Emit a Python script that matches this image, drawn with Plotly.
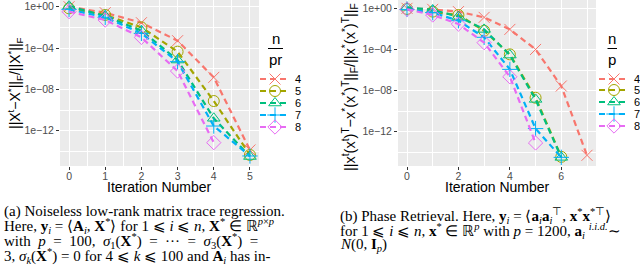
import plotly.graph_objects as go

# ---------------- data (log10 of relative error) ----------------
groups = ["4", "5", "6", "7", "8"]

# Panel (a): low-rank matrix trace regression
a_iter = {
    "4": [0, 1, 2, 3, 4, 5],
    "5": [0, 1, 2, 3, 4, 5],
    "6": [0, 1, 2, 3, 4, 5],
    "7": [0, 1, 2, 3, 4, 5],
    "8": [0, 1, 2, 3, 4],
}
a_log10 = {
    "4": [0.0, -0.58, -1.55, -3.29, -6.84, -13.87],
    "5": [-0.16, -0.80, -2.00, -4.35, -9.13, -14.35],
    "6": [0.06, -0.90, -2.32, -5.16, -10.80, -14.50],
    "7": [-0.26, -1.03, -2.58, -5.32, -11.55, -14.45],
    "8": [-0.48, -1.29, -2.97, -6.23, -13.16],
}

# Panel (b): phase retrieval
b_iter = {
    "4": [0, 1, 2, 3, 4, 5, 6, 7],
    "5": [0, 1, 2, 3, 4, 5, 6],
    "6": [0, 1, 2, 3, 4, 5, 6],
    "7": [0, 1, 2, 3, 4, 5, 6],
    "8": [0, 1, 2, 3, 4, 5],
}
b_log10 = {
    "4": [0.0, -0.10, -0.32, -0.88, -2.05, -4.00, -7.56, -14.30],
    "5": [-0.06, -0.32, -0.65, -2.18, -4.48, -8.70, -14.45],
    "6": [0.10, -0.16, -0.80, -2.05, -4.55, -8.86, -14.50],
    "7": [-0.10, -0.42, -1.20, -2.82, -5.94, -11.70, -14.50],
    "8": [-0.10, -0.65, -1.53, -3.34, -6.66, -13.10],
}

y_tick_vals = [1e0, 1e-4, 1e-8, 1e-12]
y_tick_text = ["1e+00", "1e\u221204", "1e\u221208", "1e\u221212"]
y_minor_vals = [1e-2, 1e-6, 1e-10, 1e-14]

colors = ["#F8766D", "#A3A500", "#00BF7D", "#00B0F6", "#E76BF3"]
symbols = ["x-thin-open", "circle-open", "triangle-up-open", "cross-thin-open", "diamond-open"]

W, H = 640, 278
def px(x):
    return x / W
def py(y):
    return 1 - y / H

fig = go.Figure()

legend_y_a = [79, 91, 103, 115, 127]
legend_y_b = [79, 90, 102, 114, 126]

for i, g in enumerate(groups):
    fig.add_trace(go.Scatter(
        x=a_iter[g], y=[10 ** v for v in a_log10[g]],
        mode="lines+markers", name=g, xaxis="x", yaxis="y", showlegend=True,
        line=dict(color=colors[i], width=2.2, dash="6px,4px"),
        marker=dict(symbol=symbols[i], size=11, color=colors[i],
                    line=dict(color=colors[i], width=1)),
        legend="legend" if i == 0 else f"legend{i + 1}",
    ))
for i, g in enumerate(groups):
    fig.add_trace(go.Scatter(
        x=b_iter[g], y=[10 ** v for v in b_log10[g]],
        mode="lines+markers", name=g, xaxis="x2", yaxis="y2", showlegend=True,
        line=dict(color=colors[i], width=2.2, dash="6px,4px"),
        marker=dict(symbol=symbols[i], size=11, color=colors[i],
                    line=dict(color=colors[i], width=1)),
        legend=f"legend{i + 6}",
    ))

tickfont = dict(family="Liberation Sans, Arial, sans-serif", size=10.5, color="#4D4D4D")
common_x = dict(showgrid=True, gridcolor="white", gridwidth=1, zeroline=False,
                ticks="outside", ticklen=3, tickcolor="#333333", tickfont=tickfont,
                showline=False, ticklabelstandoff=-3)
common_y = dict(type="log", tickmode="array", tickvals=y_tick_vals, ticktext=y_tick_text,
                showgrid=True, gridcolor="white", gridwidth=1, zeroline=False,
                ticks="outside", ticklen=3, tickcolor="#333333", tickfont=tickfont,
                minor=dict(tickmode="array", tickvals=y_minor_vals, showgrid=True,
                           gridcolor="white", gridwidth=0.5, ticks=""))

layout = dict(
    width=W, height=H, margin=dict(l=0, r=0, t=0, b=0, autoexpand=False),
    showlegend=True,
    paper_bgcolor="white", plot_bgcolor="#EBEBEB",
    font=dict(family="Liberation Sans, Arial, sans-serif", color="black"),
    xaxis=dict(domain=[px(60), px(259)], range=[-0.25, 5.25], tickmode="linear", tick0=0, dtick=1,
               minor=dict(dtick=0.5, tick0=0, showgrid=True, gridcolor="white", gridwidth=0.5, ticks=""),
               anchor="y", **common_x),
    yaxis=dict(domain=[py(166), py(0)], range=[-15.42, 0.65], anchor="x", **common_y),
    xaxis2=dict(domain=[px(398), px(596)], range=[-0.35, 7.35], tickmode="linear", tick0=0, dtick=2,
                minor=dict(dtick=1, tick0=0, showgrid=True, gridcolor="white", gridwidth=0.5, ticks=""),
                anchor="y2", **common_x),
    yaxis2=dict(domain=[py(166), py(0)], range=[-15.34, 0.81], anchor="x2", **common_y),
)

legfont = dict(family="Liberation Sans, Arial, sans-serif", size=11, color="black")
for i in range(10):
    key = "legend" if i == 0 else f"legend{i + 1}"
    if i < 5:
        xl, yc = 255, legend_y_a[i]
    else:
        xl, yc = 594, legend_y_b[i - 5]
    layout[key] = dict(x=px(xl), y=py(yc), xanchor="left", yanchor="middle",
                       xref="paper", yref="paper", visible=True,
                       bgcolor="rgba(0,0,0,0)", borderwidth=0, font=legfont,
                       itemwidth=30, tracegroupgap=0, orientation="v")

fig.update_layout(**layout)

ann = []
titlefont = dict(family="Liberation Sans, Arial, sans-serif", size=14, color="black")
# axis titles
ann.append(dict(text="Iteration Number", x=px(159.5), y=py(187), xref="paper", yref="paper",
                showarrow=False, font=titlefont, xanchor="center", yanchor="middle"))
ann.append(dict(text="Iteration Number", x=px(497), y=py(187), xref="paper", yref="paper",
                showarrow=False, font=titlefont, xanchor="center", yanchor="middle"))
ann.append(dict(text="||X<sup>t</sup>\u2212X<sup>*</sup>||<sub>F</sub>/||X<sup>*</sup>||<sub>F</sub>",
                x=px(15), y=py(83), xref="paper", yref="paper", textangle=-90,
                showarrow=False, font=titlefont, xanchor="center", yanchor="middle"))
ann.append(dict(text="||x<sup>t</sup>(x<sup>t</sup>)<sup>T</sup>\u2212x<sup>*</sup>(x<sup>*</sup>)<sup>T</sup>||<sub>F</sub>/||x<sup>*</sup>(x<sup>*</sup>)<sup>T</sup>||<sub>F</sub>",
                x=px(350), y=py(87), xref="paper", yref="paper", textangle=-90,
                showarrow=False, font=dict(family="Liberation Sans, Arial, sans-serif", size=14.5, color="black"),
                xanchor="center", yanchor="middle"))
# legend titles (fractions)
for xc, den in [(275.5, "pr"), (612, "p")]:
    ann.append(dict(text="n", x=px(xc), y=py(38), xref="paper", yref="paper",
                    showarrow=False, font=dict(family="Liberation Sans, Arial", size=15, color="black"),
                    xanchor="center", yanchor="middle"))
    ann.append(dict(text=den, x=px(xc), y=py(59), xref="paper", yref="paper",
                    showarrow=False, font=dict(family="Liberation Sans, Arial", size=15, color="black"),
                    xanchor="center", yanchor="middle"))
fig.add_shape(type="line", xref="paper", yref="paper", x0=px(268), x1=px(283), y0=py(48.5), y1=py(48.5),
              line=dict(color="black", width=1))
fig.add_shape(type="line", xref="paper", yref="paper", x0=px(607.5), x1=px(617), y0=py(48.5), y1=py(48.5),
              line=dict(color="black", width=1))

# captions
capfont = dict(family="Liberation Serif, Times New Roman, serif", size=15, color="black")
cap_a = [
    "(a) Noiseless low-rank matrix trace regression.",
    "Here, <b>y</b><sub><i>i</i></sub> = \u27e8<b>A</b><sub><i>i</i></sub>, <b>X</b><sup>*</sup>\u27e9 for 1 \u2a7d <i>i</i> \u2a7d <i>n</i>, <b>X</b><sup>*</sup> \u2208 \u211d<sup><i>p</i>\u00d7<i>p</i></sup>",
    "with  <i>p</i>  =  100,  <i>\u03c3</i><sub>1</sub>(<b>X</b><sup>*</sup>)  =  \u00b7\u00b7\u00b7  =  <i>\u03c3</i><sub>3</sub>(<b>X</b><sup>*</sup>)  =",
    "3, <i>\u03c3</i><sub><i>k</i></sub>(<b>X</b><sup>*</sup>) = 0 for 4 \u2a7d <i>k</i> \u2a7d 100 and <b>A</b><sub><i>i</i></sub> has in-",
]
cap_a_y = [211, 226, 241, 256]
cap_b = [
    "(b) Phase Retrieval. Here, <b>y</b><sub><i>i</i></sub> = \u27e8<b>a</b><sub><i>i</i></sub><b>a</b><sub><i>i</i></sub><sup>\u22a4</sup>, <b>x</b><sup>*</sup><b>x</b><sup>*\u22a4</sup>\u27e9",
    "for 1 \u2a7d <i>i</i> \u2a7d <i>n</i>, <b>x</b><sup>*</sup> \u2208 \u211d<sup><i>p</i></sup> with <i>p</i> = 1200, <b>a</b><sub><i>i</i></sub> <sup><i>i.i.d.</i></sup>\u223c",
    "<i>N</i>(0, <b>I</b><sub><i>p</i></sub>)",
]
cap_b_y = [216, 231, 245]
for t, y in zip(cap_a, cap_a_y):
    ann.append(dict(text=t, x=px(2), y=py(y), xref="paper", yref="paper", showarrow=False,
                    font=capfont, xanchor="left", yanchor="middle", align="left"))
for t, y in zip(cap_b, cap_b_y):
    ann.append(dict(text=t, x=px(338), y=py(y), xref="paper", yref="paper", showarrow=False,
                    font=capfont, xanchor="left", yanchor="middle", align="left"))

fig.update_layout(annotations=ann)
fig.write_html("out.html", config={"displayModeBar": False},
               post_script="document.body.style.margin='0';document.body.style.overflow='hidden';")
